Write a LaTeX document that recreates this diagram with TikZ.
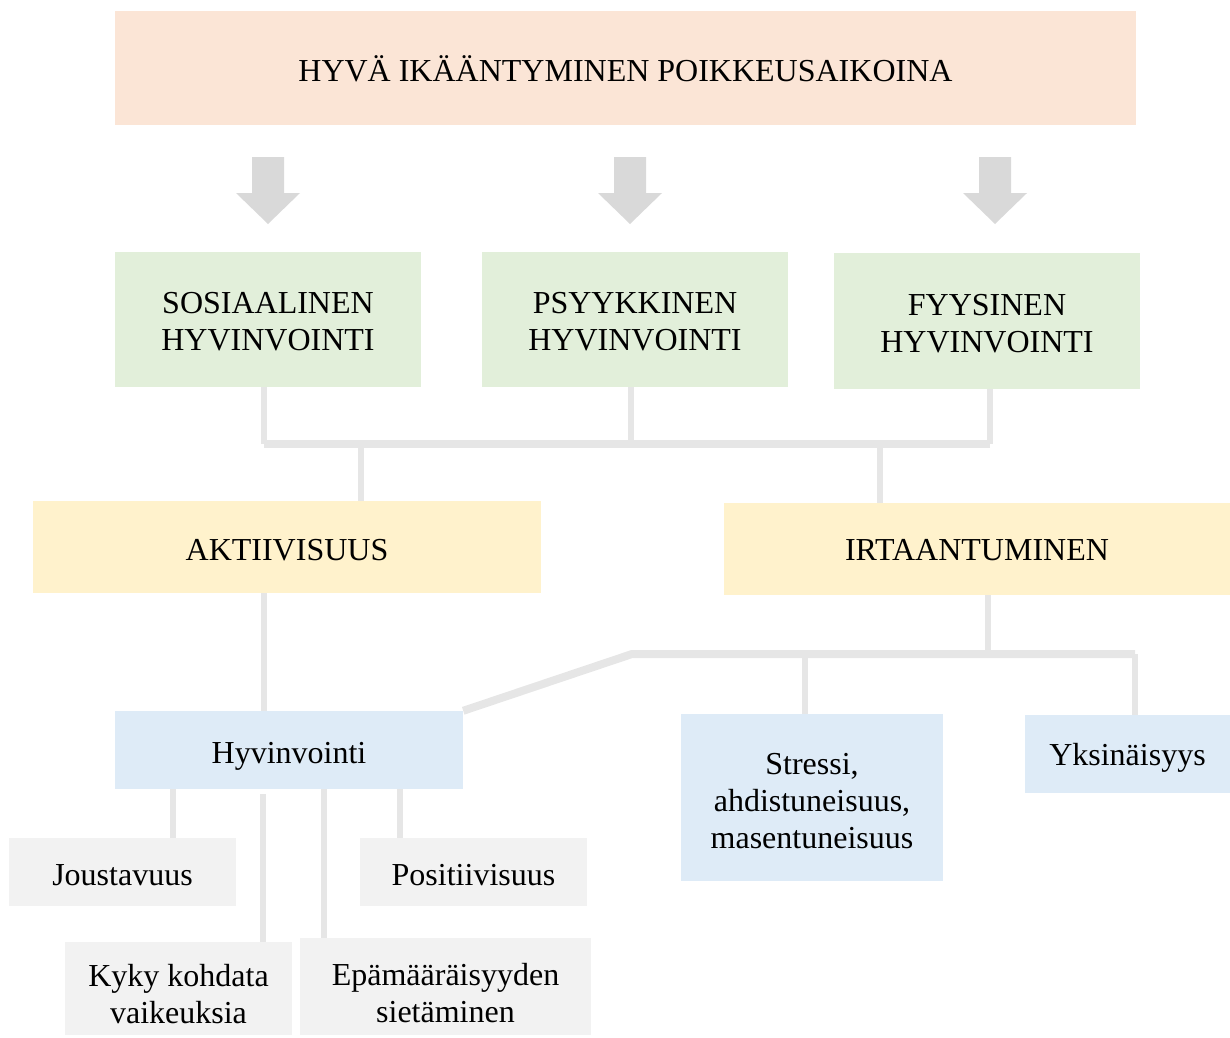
\documentclass[tikz,border=0pt]{standalone}
\usepackage{fontspec}
\setmainfont{Liberation Serif}
\definecolor{peach}{HTML}{FBE5D6}
\definecolor{lgreen}{HTML}{E2EFDA}
\definecolor{lyellow}{HTML}{FFF2CC}
\definecolor{lblue}{HTML}{DEEBF7}
\definecolor{lgraybox}{HTML}{F2F2F2}
\definecolor{arrowgray}{HTML}{D9D9D9}
\definecolor{linegray}{HTML}{E6E6E6}
\begin{document}
\begin{tikzpicture}[x=1pt,y=-1pt,
  box/.style={inner sep=0pt},
  txt/.style={inner sep=0pt, align=center, font=\fontsize{32}{37}\selectfont, text=black},
  conn/.style={draw=linegray, line width=6pt},
  bar/.style={draw=linegray, line width=8pt},
  downarrow/.pic={\fill[arrowgray] (-16,0) -- (16,0) -- (16,36) -- (32,36) -- (0,67) -- (-32,36) -- (-16,36) -- cycle;}
]
\path[use as bounding box] (0,0) rectangle (1230,1037);

% boxes
\node[box, fill=peach, minimum width=1021pt, minimum height=114pt] (top) at (625.5,68) {};
\node[txt] (ttop) at ([yshift=-1pt]top.center) {HYVÄ IKÄÄNTYMINEN POIKKEUSAIKOINA};

\node[box, fill=lgreen, minimum width=306pt, minimum height=135pt] (g1) at (268,319.5) {};
\node[txt] (tg1) at ([yshift=-2pt]g1.center) {SOSIAALINEN\\HYVINVOINTI};
\node[box, fill=lgreen, minimum width=306pt, minimum height=135pt] (g2) at (635,319.5) {};
\node[txt] (tg2) at ([yshift=-2pt]g2.center) {PSYYKKINEN\\HYVINVOINTI};
\node[box, fill=lgreen, minimum width=306pt, minimum height=136pt] (g3) at (987,321) {};
\node[txt] (tg3) at ([yshift=-3pt]g3.center) {FYYSINEN\\HYVINVOINTI};

\node[box, fill=lyellow, minimum width=508pt, minimum height=92pt] (y1) at (287,547) {};
\node[txt] (ty1) at ([yshift=-3pt]y1.center) {AKTIIVISUUS};
\node[box, fill=lyellow, minimum width=506pt, minimum height=92pt] (y2) at (977,549) {};
\node[txt] (ty2) at ([yshift=-1pt]y2.center) {IRTAANTUMINEN};

\node[box, fill=lblue, minimum width=348pt, minimum height=78pt] (b1) at (289,750) {};
\node[txt] (tb1) at ([yshift=-6pt]b1.center) {Hyvinvointi};
\node[box, fill=lblue, minimum width=262pt, minimum height=167pt] (b2) at (812,797.5) {};
\node[txt] (tb2) at ([yshift=-4pt]b2.center) {Stressi,\\ahdistuneisuus,\\masentuneisuus};
\node[box, fill=lblue, minimum width=205pt, minimum height=78pt] (b3) at (1127.5,754) {};
\node[txt] (tb3) at ([yshift=-4pt]b3.center) {Yksinäisyys};

\node[box, fill=lgraybox, minimum width=227pt, minimum height=68pt] (c1) at (122.5,872) {};
\node[txt] (tc1) at ([yshift=-3pt]c1.center) {Joustavuus};
\node[box, fill=lgraybox, minimum width=227pt, minimum height=68pt] (c2) at (473.5,872) {};
\node[txt] (tc2) at ([yshift=-3pt]c2.center) {Positiivisuus};
\node[box, fill=lgraybox, minimum width=227pt, minimum height=93pt] (c3) at (178.5,988.5) {};
\node[txt] (tc3) at ([yshift=-6pt]c3.center) {Kyky kohdata\\vaikeuksia};
\node[box, fill=lgraybox, minimum width=291pt, minimum height=97pt] (c4) at (445.5,986.5) {};
\node[txt] (tc4) at ([yshift=-7pt]c4.center) {Epämääräisyyden\\sietäminen};

% block arrows
\pic at (268,157) {downarrow};
\pic at (630,157) {downarrow};
\pic at (995,157) {downarrow};

% upper connectors
\coordinate (barL) at (264,444);
\coordinate (barR) at (990,444);
\draw[conn] (g1.south -| barL) -- (barL);
\draw[conn] (g3.south -| barR) -- (barR);
\draw[conn] ([xshift=-4pt]g2.south) -- ([xshift=-4pt]g2.south |- barL);
\draw[bar] (barL) -- (barR);
\draw[conn] ([xshift=74pt]y1.north) -- ([xshift=74pt]y1.north |- barL);
\draw[conn] ([xshift=-97pt]y2.north) -- ([xshift=-97pt]y2.north |- barL);

% middle connectors
\draw[conn] ([xshift=-23pt]y1.south) -- ([xshift=-23pt]y1.south |- b1.north);
\coordinate (bar2L) at (632,654);
\coordinate (bar2R) at (1135,654);
\draw[conn] ([xshift=11pt]y2.south) -- ([xshift=11pt]y2.south |- bar2L);
\draw[bar] (b1.north east) -- (bar2L) -- (bar2R);
\draw[conn] (bar2R) -- (bar2R |- b3.north);
\draw[conn] ([xshift=-7pt]b2.north) -- ([xshift=-7pt]b2.north |- bar2L);

% lower connectors
\draw[conn] ([xshift=-116pt]b1.south) -- ([xshift=-116pt]b1.south |- c1.north);
\draw[conn] ([xshift=111pt]b1.south) -- ([xshift=111pt]b1.south |- c2.north);
\draw[conn] ([xshift=-26pt,yshift=-5pt]b1.south) -- ([xshift=-26pt]b1.south |- c3.north);
\draw[conn] ([xshift=35pt]b1.south) -- ([xshift=35pt]b1.south |- c4.north);
\end{tikzpicture}
\end{document}
